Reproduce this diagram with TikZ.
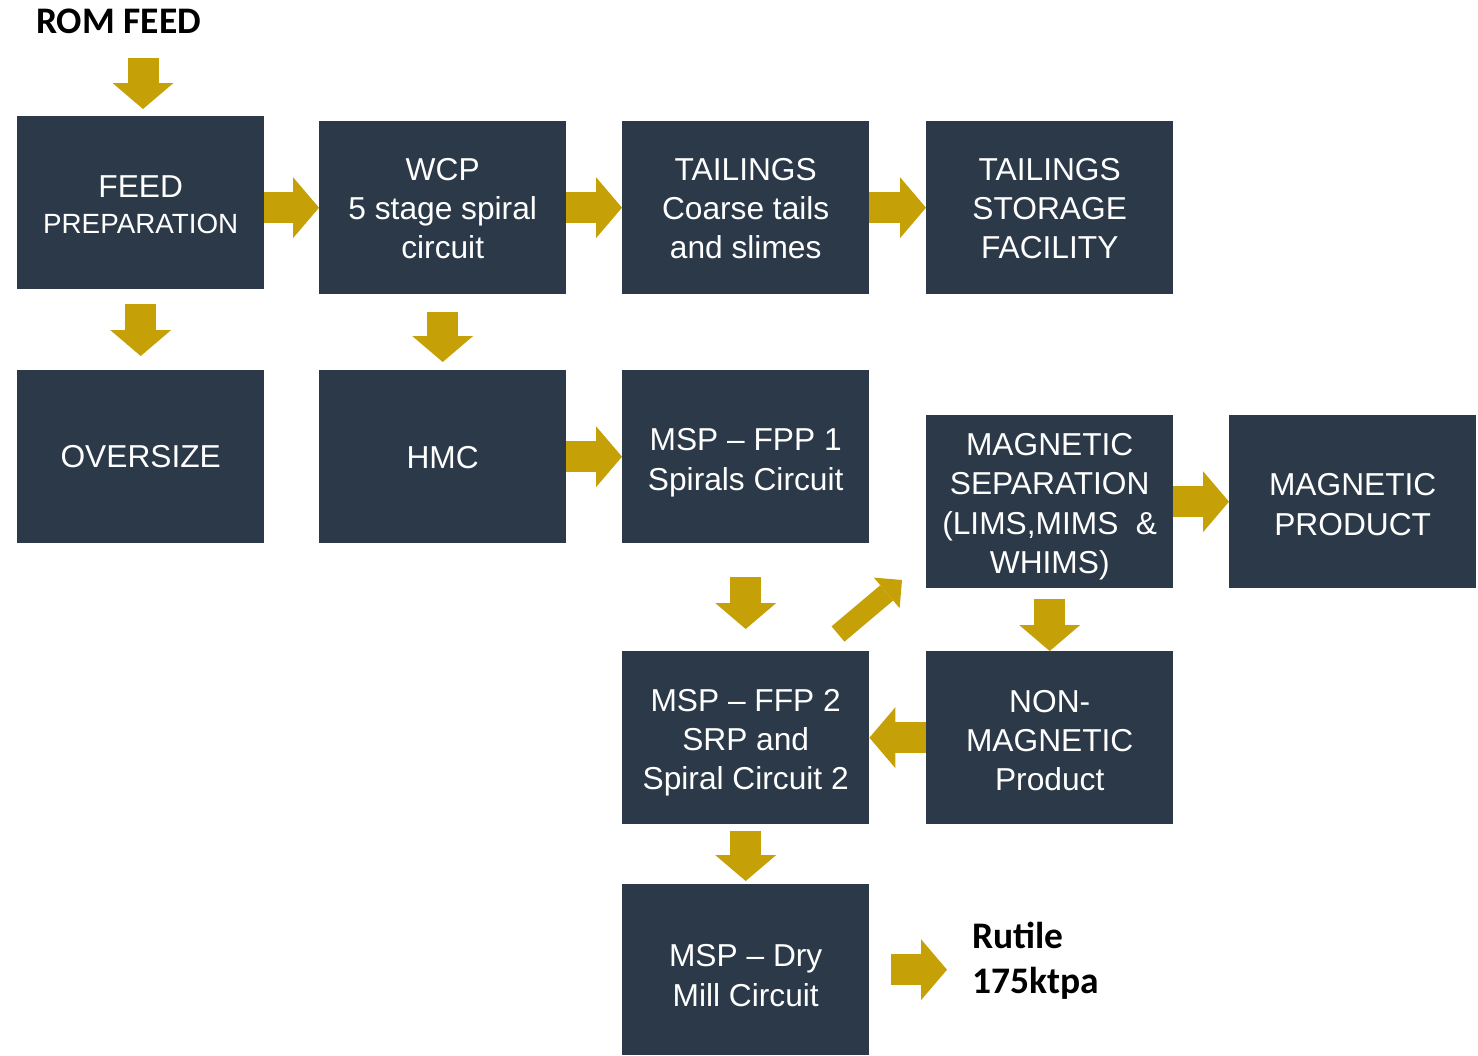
\documentclass[tikz,border=0pt]{standalone}
\usepackage{fontspec}
\setmainfont{Liberation Sans}
\newfontfamily\labelfont{Carlito}
\usetikzlibrary{arrows.meta,calc}
\definecolor{boxblue}{HTML}{2B3948}
\definecolor{flowgold}{HTML}{C5A006}

\begin{document}
\begin{tikzpicture}[x=1pt,y=-1pt,
  stage/.style={fill=boxblue, minimum width=247pt, minimum height=173pt,
    inner sep=0pt, anchor=north west},
  caption/.style={text=white, align=center, inner sep=0pt,
    font=\fontsize{31.7}{39.3}\selectfont},
  flow/.style={draw=flowgold, line width=31pt,
    -{Triangle[width=61pt,length=26pt,line width=0pt]}},
  slimflow/.style={draw=flowgold, line width=20pt,
    -{Triangle[width=40pt,length=20pt,line width=0pt]}},
  tag/.style={font=\labelfont\bfseries\fontsize{37.5}{45}\selectfont, align=left,
    inner sep=0pt, anchor=west}]
\useasboundingbox (0,0) rectangle (1478,1055);

% process stages
\node[stage] (feed)    at (17,116)  {};
\node[stage] (wcp)     at (319,121) {};
\node[stage] (tail)    at (622,121) {};
\node[stage] (tsf)     at (926,121) {};
\node[stage] (over)    at (17,370)  {};
\node[stage] (hmc)     at (319,370) {};
\node[stage] (fpp)     at (622,370) {};
\node[stage] (magsep)  at (926,415) {};
\node[stage] (magprod) at (1229,415) {};
\node[stage] (nonmag)  at (926,651) {};
\node[stage] (ffp)     at (622,651) {};
\node[stage, minimum height=171pt] (dry) at (622,884) {};

% stage captions
\node[caption] (feedtext) at ([yshift=-2pt]feed.center)
  {FEED\\[-4pt]{\fontsize{27.8}{33}\selectfont PREPARATION}};
\node[caption] (wcptext)  at ([yshift=-1pt]wcp.center)  {WCP\\5 stage spiral\\circuit};
\node[caption] (tailtext) at ([yshift=-1pt]tail.center) {TAILINGS\\Coarse tails\\and slimes};
\node[caption] (tsftext)  at ([yshift=-1pt]tsf.center)  {TAILINGS\\STORAGE\\FACILITY};
\node[caption] (overtext) at (over.center) {OVERSIZE};
\node[caption] (hmctext)  at ([yshift=-1pt]hmc.center) {HMC};
\node[caption] (fpptext)  at ([yshift=-6pt]fpp.center) {MSP -- FPP 1\\Spirals Circuit};
\node[caption] (magseptext) at ([yshift=-5pt]magsep.center)
  {MAGNETIC\\SEPARATION\\(LIMS,MIMS\ \ \&\\WHIMS)};
\node[caption] (magprodtext) at ([yshift=-3pt]magprod.center) {MAGNETIC\\PRODUCT};
\node[caption] (nonmagtext) at ([yshift=-3pt]nonmag.center) {NON-\\MAGNETIC\\Product};
\node[caption] (ffptext)  at ([yshift=-5pt]ffp.center) {MSP -- FFP 2\\SRP and\\Spiral Circuit 2};
\node[caption] (drytext)  at ([yshift=-6pt]dry.center) {MSP -- Dry\\Mill Circuit};

% labels
\node[tag] (rom)    at (36,21)   {ROM FEED};
\node[tag] (rutile) at (972,961) {Rutile\\175ktpa};

% free arrow ends
\coordinate (romtop) at (143,58);
\coordinate (diagtail) at (838,634);
\coordinate (diagtip) at (902,580);

% flow arrows
\draw[flow, shorten >=7pt] (romtop) -- (romtop |- feed.north);
\draw[flow] (wcp.west -| feed.east) -- (wcp.west);
\draw[flow] (wcp.east) -- (tail.west);
\draw[flow] (tail.east) -- (tsf.west);
\draw[flow, shorten <=15pt, shorten >=14pt] (feed.south) -- (over.north);
\draw[flow, shorten <=18pt, shorten >=8pt] (wcp.south) -- (hmc.north);
\draw[flow, yshift=5pt] (hmc.east) -- (fpp.west);
\draw[flow, shorten <=34pt, shorten >=22pt] (fpp.south) -- (ffp.north);
\draw[slimflow] (diagtail) -- (diagtip);
\draw[flow, yshift=-5pt] (magsep.east) -- (magprod.west);
\draw[flow, shorten <=11pt] (magsep.south) -- (nonmag.north);
\draw[flow, yshift=-2pt] (nonmag.west) -- (ffp.east);
\draw[flow, shorten <=7pt, shorten >=3pt] (ffp.south) -- (dry.north);
\draw[flow, shorten <=22pt, shorten >=25pt] (dry.east) -- (dry.east -| rutile.west);
\end{tikzpicture}
\end{document}
